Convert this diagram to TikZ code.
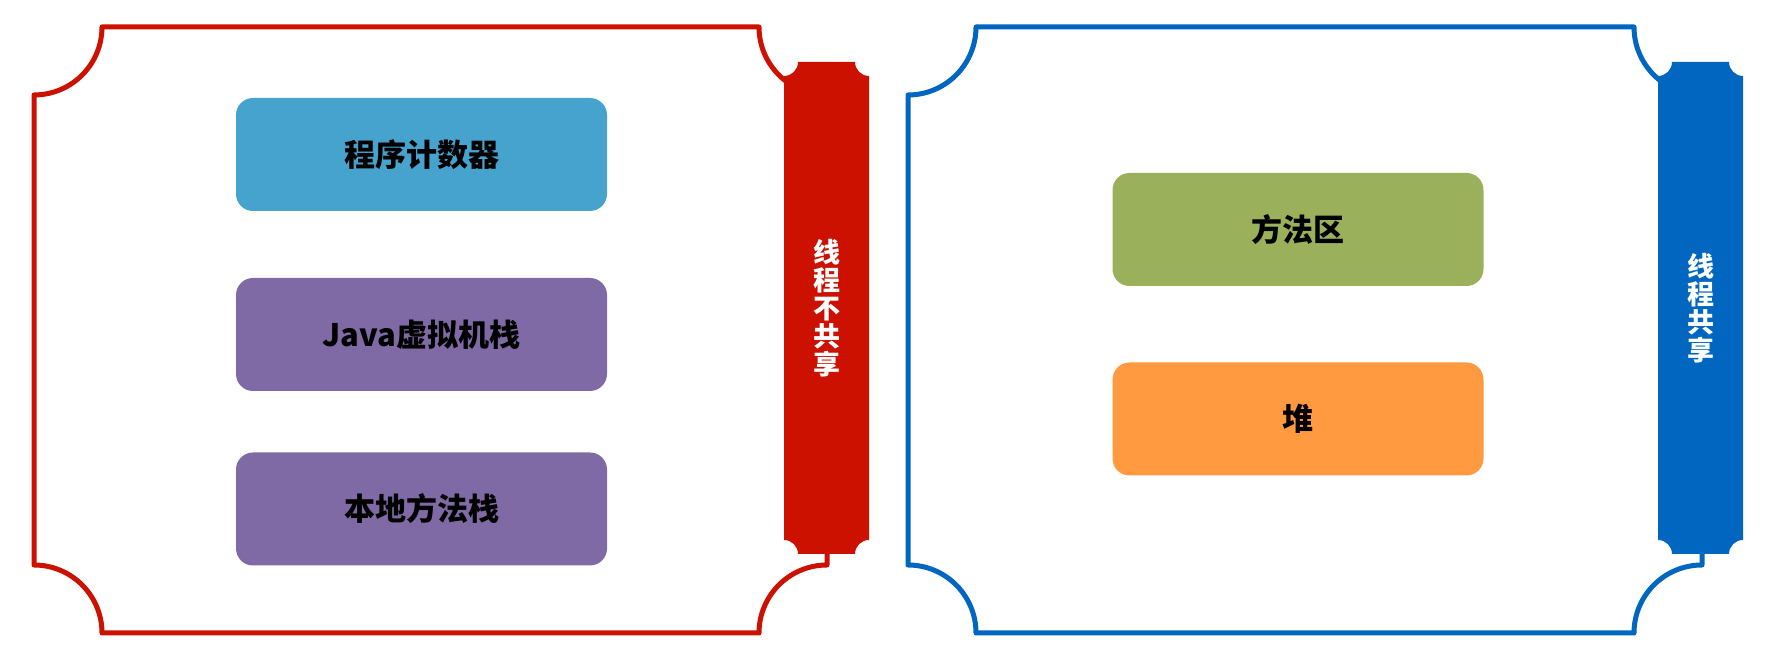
\documentclass[tikz,border=0pt]{standalone}
\usepackage{fontspec}
\newfontfamily\cjk{Noto Sans CJK SC}
\usetikzlibrary{positioning}
\definecolor{frred}{HTML}{CC1100}
\definecolor{frblue}{HTML}{0066C0}
\definecolor{pcblue}{HTML}{45A3CD}
\definecolor{stpurple}{HTML}{7F6AA6}
\definecolor{magreen}{HTML}{9BB05A}
\definecolor{hporange}{HTML}{FF9A40}
\begin{document}
\begin{tikzpicture}[x=1pt,y=1pt,line join=round,
    area/.style={minimum width=371pt,minimum height=113pt,inner sep=0pt,rounded corners=17pt,
      font=\cjk\bfseries\fontsize{31}{36}\selectfont,text=black},
    frame/.style={line width=5pt},
    bartext/.style={text=white,align=center,inner sep=0pt,font=\cjk\bfseries\fontsize{27}{28}\selectfont}]
  \useasboundingbox (0,0) rectangle (1775,647);

  % thread-private frame
  \draw[frame,frred] (102,620) -- (759,620) arc[start angle=180,end angle=270,radius=68]
    -- (827,82) arc[start angle=90,end angle=180,radius=68]
    -- (102,14) arc[start angle=0,end angle=90,radius=68]
    -- (34,552) arc[start angle=270,end angle=360,radius=68] -- cycle;
  \fill[frred] (798,585) -- (855,585) arc[start angle=180,end angle=270,radius=14]
    -- (869,107) arc[start angle=90,end angle=180,radius=14]
    -- (798,93) arc[start angle=0,end angle=90,radius=14]
    -- (784,571) arc[start angle=270,end angle=360,radius=14] -- cycle;
  \node[bartext] (priv) at (826.5,339) {线\\程\\不\\共\\享};

  % thread-shared frame
  \draw[frame,frblue] (976,620) -- (1634,620) arc[start angle=180,end angle=270,radius=68]
    -- (1702,82) arc[start angle=90,end angle=180,radius=68]
    -- (976,14) arc[start angle=0,end angle=90,radius=68]
    -- (908,552) arc[start angle=270,end angle=360,radius=68] -- cycle;
  \fill[frblue] (1672,585) -- (1729,585) arc[start angle=180,end angle=270,radius=14]
    -- (1743,107) arc[start angle=90,end angle=180,radius=14]
    -- (1672,93) arc[start angle=0,end angle=90,radius=14]
    -- (1658,571) arc[start angle=270,end angle=360,radius=14] -- cycle;
  \node[bartext] (shared) at (1700.5,339) {线\\程\\共\\享};

  % areas
  \node[area,fill=pcblue] (pc) at (421.5,492.5) {程序计数器};
  \node[area,fill=stpurple] (jvms) at (421.5,312.5) {Java虚拟机栈};
  \node[area,fill=stpurple] (nms) at (421.5,138) {本地方法栈};
  \node[area,fill=magreen] (ma) at (1298,417.5) {方法区};
  \node[area,fill=hporange] (heap) at (1298,228) {堆};
\end{tikzpicture}
\end{document}
